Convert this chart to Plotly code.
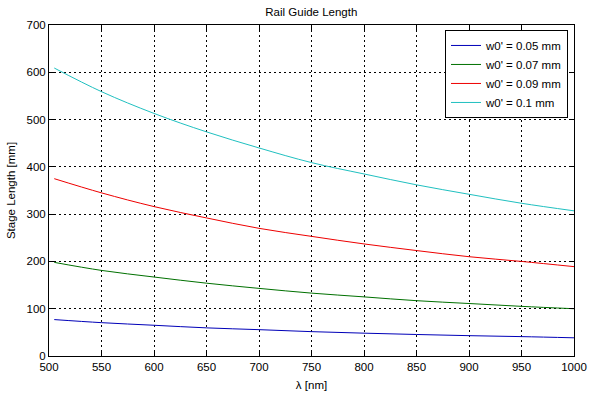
import plotly.graph_objects as go

wavelength = [505, 550, 600, 650, 700, 750, 800, 850, 900, 950, 1000]
len_005 = [77, 70.5, 65, 59.5, 55.7, 51.5, 48.3, 45.5, 43, 41, 38.5]
len_007 = [198, 181, 167, 154, 143, 133, 125, 117, 111, 105, 100]
len_009 = [375, 345, 316, 292, 270, 253, 237, 223, 210, 200, 189]
len_010 = [609, 559, 513, 474, 440, 409, 385, 362, 342, 323, 307]

names = ["w0' = 0.05 mm", "w0' = 0.07 mm", "w0' = 0.09 mm", "w0' = 0.1 mm"]
colors = ["#0000b8", "#007000", "#ee0000", "#20c0c0"]
series = [len_005, len_007, len_009, len_010]

FONT = "Liberation Sans, Arial, Helvetica, sans-serif"

fig = go.Figure()
for n, c, s in zip(names, colors, series):
    fig.add_trace(go.Scatter(x=wavelength, y=s, mode="lines", name=n,
                             line=dict(color=c, width=1, shape="spline")))

axis_common = dict(
    showgrid=True, gridcolor="black", gridwidth=1, griddash="2px,3px",
    showline=True, linecolor="black", linewidth=1, mirror="ticks",
    ticks="inside", ticklen=5, tickcolor="black",
    zeroline=False, automargin=False,
    tickfont=dict(family=FONT, size=11.5, color="black"),
)

fig.update_layout(
    width=593, height=395,
    margin=dict(l=49, r=19, t=25, b=39),
    paper_bgcolor="white", plot_bgcolor="white",
    font=dict(family=FONT, size=12, color="black"),
    title=dict(text="Rail Guide Length", x=0.525, xanchor="center",
               y=0.97, yanchor="middle", font=dict(size=11.5)),
    xaxis=dict(range=[500, 1000], dtick=50,
               title=dict(text="λ [nm]", standoff=9, font=dict(size=11.5)),
               **axis_common),
    yaxis=dict(range=[0, 700], dtick=100,
               title=dict(text="Stage Length [mm]", standoff=8, font=dict(size=11.5)),
               **axis_common),
    legend=dict(x=0.9886, y=0.985, xanchor="right", yanchor="top",
                bgcolor="white", bordercolor="black", borderwidth=1,
                font=dict(size=11.5), tracegroupgap=0),
    showlegend=True,
)

fig.write_html("out.html", config={"displayModeBar": False},
               post_script="document.body.style.margin='0px';")
